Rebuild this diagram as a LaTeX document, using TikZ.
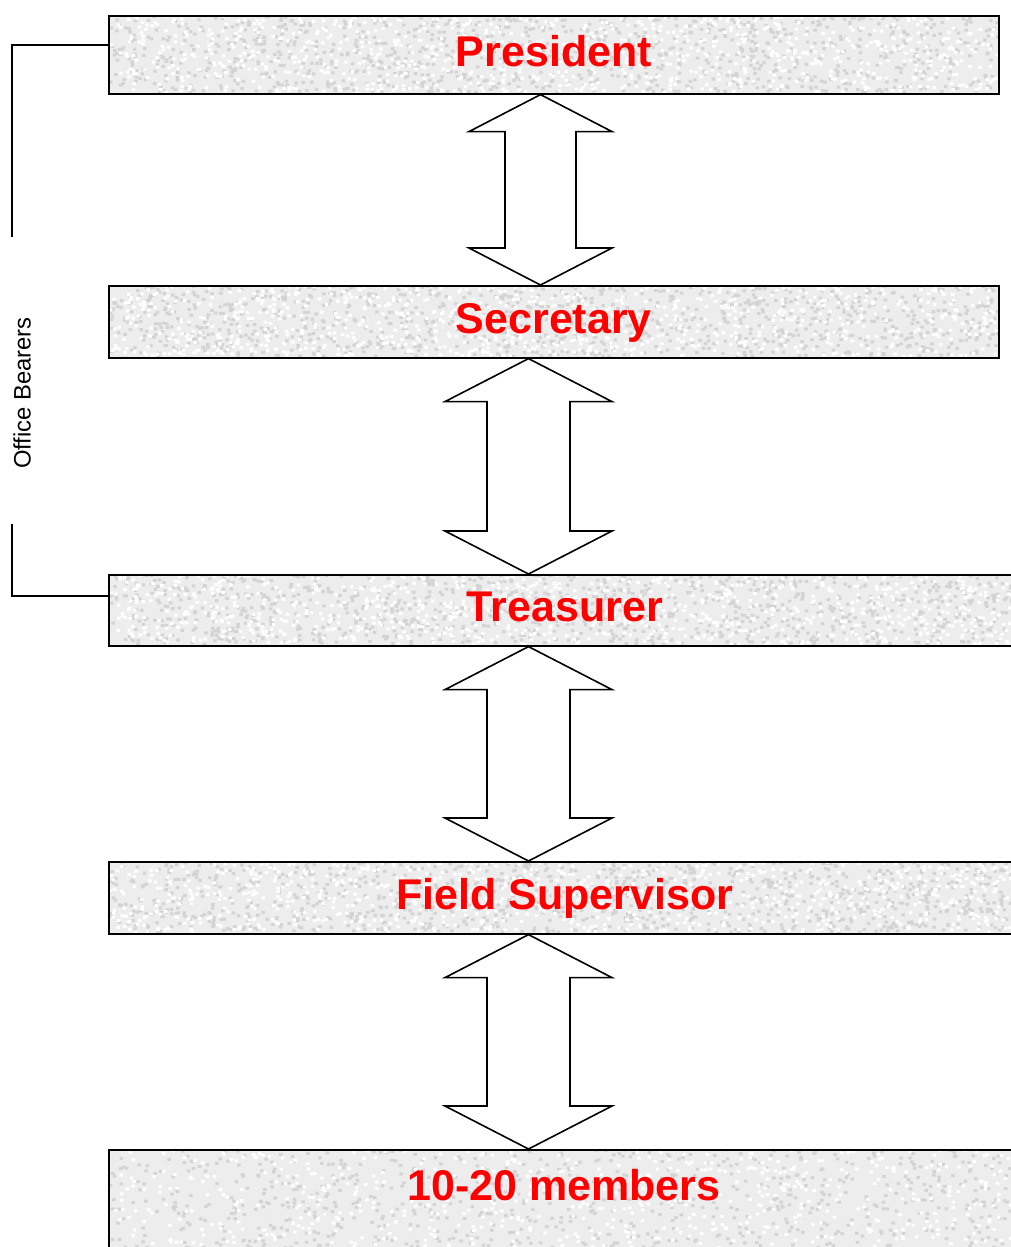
\documentclass[tikz,border=0pt]{standalone}
\usepackage{fontspec}
\setmainfont{Liberation Sans}
\usetikzlibrary{calc}
\pgfmathsetseed{7}
\tikzset{
  box/.style={draw=black, line width=1.6pt, fill=black!7, anchor=north west,
    inner sep=0pt, text=red,
    font=\fontsize{43}{50}\selectfont\bfseries, text height=31pt, text depth=8pt,
    path picture={
      \fill[black!17] let \p1=(path picture bounding box.south west),
                          \p2=(path picture bounding box.north east) in
        \foreach \i in {1,...,1100}{ ({\x1+rnd*(\x2-\x1)},{\y1+rnd*(\y2-\y1)}) rectangle ++(3.5pt,3pt) };
      \fill[white] let \p1=(path picture bounding box.south west),
                          \p2=(path picture bounding box.north east) in
        \foreach \i in {1,...,900}{ ({\x1+rnd*(\x2-\x1)},{\y1+rnd*(\y2-\y1)}) rectangle ++(3.5pt,3pt) };
    }},
  title/.style={text=red, font=\fontsize{43}{50}\selectfont\bfseries, inner sep=0pt},
  arr/.style={draw=black, line width=1.6pt, fill=white, line join=miter},
  brk/.style={draw=black, line width=1.3pt},
}
% #1 upper node, #2 lower node, #3 x, #4 head half width, #5 shaft half width, #6 head length
\newcommand\dblarr[6]{%
  \path[arr] let \p1=(#3,0 |- #1.south), \p2=(#3,0 |- #2.north) in
    (\p1) -- (\x1+#4pt,\y1-#6pt) -- (\x1+#5pt,\y1-#6pt) -- (\x1+#5pt,\y2+#6pt)
    -- (\x1+#4pt,\y2+#6pt) -- (\p2) -- (\x1-#4pt,\y2+#6pt) -- (\x1-#5pt,\y2+#6pt)
    -- (\x1-#5pt,\y1-#6pt) -- (\x1-#4pt,\y1-#6pt) -- cycle;}
\begin{document}
\begin{tikzpicture}[x=1pt,y=-1pt]
\useasboundingbox (0,0) rectangle (1011,1247);
\begin{scope}
\clip (0,0) rectangle (1011,1247);
\node[box, minimum width=890pt, minimum height=78pt] (pres) at (108,15) {President};
\node[box, minimum width=890pt, minimum height=72pt] (sec) at (108,285) {Secretary};
\node[box, minimum width=912pt, minimum height=71pt] (treas) at (108,574) {Treasurer};
\node[box, minimum width=912pt, minimum height=72pt] (field) at (108,861) {Field Supervisor};
\node[box, minimum width=912pt, minimum height=140pt] (mem) at (108,1149) {};
\node[title] (memt) at (564,1185) {10-20 members};
\end{scope}

\dblarr{pres}{sec}{540.5}{71.5}{35.5}{37}
\dblarr{sec}{treas}{528.5}{83.5}{41.5}{43}
\dblarr{treas}{field}{528.5}{83.5}{41.5}{43}
\dblarr{field}{mem}{528.5}{83.5}{41.5}{43}

\coordinate (b1) at (12,45);
\coordinate (b2) at (12,237);
\coordinate (b3) at (12,524);
\coordinate (b4) at (12,596);
\draw[brk] (pres.west |- b1) -- (b1) -- (b2);
\draw[brk] (b3) -- (b4) -- (treas.west |- b4);
\node[rotate=90, font=\fontsize{23.8}{28}\selectfont, inner sep=0pt] (ob) at (22,393) {Office Bearers};
\end{tikzpicture}
\end{document}
